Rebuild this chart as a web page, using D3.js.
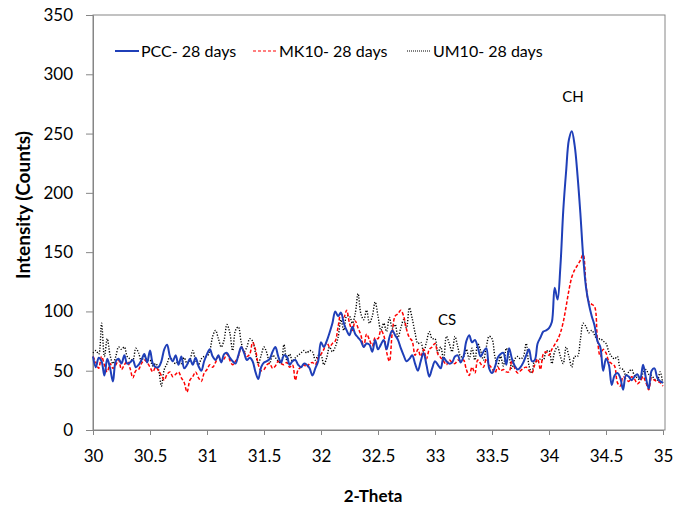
<!DOCTYPE html>
<html lang="en">
<head>
    <meta charset="UTF-8">
    <title>XRD 2-Theta</title>
    <script src="https://cdn.jsdelivr.net/npm/d3@7/dist/d3.min.js"></script>
    <style>
        body { margin: 0; background: #fff; }
        text { font-family: Lato, "Open Sans", sans-serif; fill: #000; }
    </style>
</head>
<body>
<script type="application/javascript">
    // 2-Theta grid: 30 to 35, step 0.025 (201 points)
    const twoTheta = d3.range(0, 201).map(i => +(30 + i * 0.025).toFixed(3));

    const seriesNames = ['PCC- 28 days', 'MK10- 28 days', 'UM10- 28 days'];

    // PCC, 10 values per 0.25 deg
    const pcc = [
        62, 53, 61, 58, 46, 60, 52, 41, 58, 60,
        56, 63, 56, 57, 59, 53, 55, 59, 64, 57,
        67, 56, 53, 53, 58, 68, 72, 62, 58, 63,
        55, 62, 52, 55, 60, 55, 61, 54, 50, 58,
        64, 68, 62, 59, 63, 57, 64, 65, 61, 58,
        56, 63, 70, 65, 59, 61, 58, 49, 43, 53,
        57, 58, 60, 66, 70, 62, 57, 63, 62, 55,
        58, 59, 55, 53, 56, 55, 52, 46, 52, 58,
        74, 70, 75, 82, 90, 100, 96, 99, 90, 84,
        80, 87, 81, 78, 75, 70, 73, 72, 66, 76,
        68, 72, 76, 68, 78, 84, 80, 76, 69, 63,
        58, 60, 63, 56, 50, 58, 65, 55, 45, 52,
        58, 55, 52, 61, 58, 56, 57, 62, 63, 57,
        62, 75, 80, 74, 76, 70, 62, 66, 69, 52,
        48, 53, 61, 64, 65, 55, 69, 60, 54, 51,
        53, 57, 63, 68, 58, 59, 73, 78, 83, 84,
        86, 91, 120, 110, 138, 185, 218, 245, 252, 240,
        215, 183, 146, 120, 106, 96, 88, 75, 70, 50,
        60, 55, 38, 46, 48, 44, 34, 46, 45, 42,
        45, 47, 43, 55, 44, 35, 50, 52, 44, 41,
        40
    ];

    // MK10
    const mk10 = [
        62, 57, 52, 62, 55, 49, 56, 52, 55, 59,
        51, 55, 58, 52, 44, 50, 51, 56, 59, 57,
        53, 49, 53, 50, 46, 42, 47, 49, 45, 47,
        49, 44, 40, 32, 42, 45, 49, 44, 41, 48,
        51, 55, 53, 57, 62, 58, 60, 64, 59, 55,
        58, 62, 70, 66, 62, 64, 74, 68, 55, 50,
        51, 55, 56, 52, 54, 58, 56, 55, 57, 53,
        55, 42, 51, 53, 55, 53, 56, 57, 55, 61,
        64, 68, 74, 70, 73, 75, 87, 98, 95, 101,
        90, 84, 92, 86, 80, 70, 81, 76, 71, 78,
        77, 84, 80, 66, 58, 82, 96, 98, 101, 96,
        85, 78, 75, 63, 68, 62, 68, 60, 68, 70,
        73, 64, 61, 58, 55, 59, 57, 56, 59, 58,
        59, 51, 46, 53, 48, 59, 56, 53, 60, 55,
        52, 48, 53, 50, 51, 49, 49, 59, 52, 48,
        50, 52, 53, 50, 48, 55, 60, 51, 64, 66,
        63, 68, 72, 76, 82, 91, 104, 118, 129, 135,
        139, 143, 148, 122, 108, 106, 104, 76, 62, 68,
        65, 58, 56, 54, 40, 37, 45, 43, 41, 45,
        43, 39, 41, 45, 40, 34, 44, 42, 41, 40,
        37
    ];

    // UM10
    const um10 = [
        65, 67, 64, 90, 62, 77, 63, 56, 62, 70,
        68, 70, 62, 60, 59, 69, 65, 58, 62, 59,
        59, 54, 56, 51, 37, 51, 56, 62, 58, 56,
        58, 56, 61, 56, 59, 67, 59, 55, 60, 62,
        62, 67, 79, 84, 77, 70, 76, 89, 82, 67,
        84, 87, 74, 66, 70, 77, 75, 65, 56, 63,
        70, 65, 56, 63, 61, 58, 56, 72, 59, 64,
        58, 61, 63, 65, 67, 65, 67, 66, 59, 63,
        63, 55, 61, 70, 66, 70, 78, 93, 84, 96,
        96, 90, 98, 115, 98, 93, 101, 90, 96, 108,
        96, 84, 90, 83, 95, 86, 89, 78, 86, 93,
        86, 103, 94, 82, 73, 74, 66, 74, 83, 77,
        77, 65, 70, 59, 79, 73, 66, 79, 70, 62,
        62, 68, 60, 69, 59, 73, 67, 59, 70, 79,
        77, 62, 54, 62, 54, 69, 62, 52, 60, 62,
        60, 62, 73, 54, 48, 59, 57, 60, 59, 66,
        67, 56, 66, 70, 62, 56, 70, 62, 53, 62,
        62, 76, 90, 87, 82, 84, 80, 76, 77, 75,
        73, 66, 62, 60, 62, 52, 51, 46, 49, 51,
        46, 44, 42, 48, 51, 47, 46, 43, 42, 49,
        38
    ];

    const xTicks = [30, 30.5, 31, 31.5, 32, 32.5, 33, 33.5, 34, 34.5, 35];
    const yTicks = [0, 50, 100, 150, 200, 250, 300, 350];

    const w = 688, h = 511;
    // plot area edges
    const m = { left: 93, right: 663, top: 15, bottom: 430 };

    let svg = d3.select('body')
        .append('svg')
        .attr('width', w)
        .attr('height', h);

    let xScale = d3.scaleLinear().domain([30, 35]).range([m.left, m.right]);
    let yScale = d3.scaleLinear().domain([0, 350]).range([m.bottom, m.top]);

    // plot frame
    svg.append('rect')
        .attr('x', m.left).attr('y', m.top)
        .attr('width', m.right - m.left + 2).attr('height', m.bottom - m.top)
        .attr('fill', 'none').attr('stroke', '#868686').attr('stroke-width', 1);

    // axes
    let xAxis = svg.append('g')
        .attr('transform', `translate(0,${m.bottom})`)
        .call(d3.axisBottom(xScale).tickValues(xTicks).tickSize(5).tickPadding(15)
            .tickFormat(d => d));
    let yAxis = svg.append('g')
        .attr('transform', `translate(${m.left},0)`)
        .call(d3.axisLeft(yScale).tickValues(yTicks).tickSize(7).tickPadding(13));

    [xAxis, yAxis].forEach(a => {
        a.select('.domain').attr('stroke', '#868686');
        a.selectAll('.tick line').attr('stroke', '#868686');
        a.selectAll('.tick text')
            .attr('font-size', '17px')
            .attr('font-family', 'Lato, sans-serif')
            .attr('fill', '#000');
    });

    let line = d3.line()
        .x((d, i) => xScale(twoTheta[i]))
        .y(d => yScale(d))
        .curve(d3.curveCatmullRom.alpha(0.5));

    // draw order: dotted, dashed, solid on top
    const styles = [
        { data: um10, color: '#000000', width: 1.4, dash: '1.2,1.6' },
        { data: mk10, color: '#ff0000', width: 1.5, dash: '3.5,2' },
        { data: pcc, color: '#1f3fb8', width: 2, dash: null }
    ];

    svg.selectAll('path.series')
        .data(styles)
        .enter()
        .append('path')
        .attr('class', 'series')
        .attr('d', d => line(d.data))
        .attr('fill', 'none')
        .attr('stroke', d => d.color)
        .attr('stroke-width', d => d.width)
        .attr('stroke-dasharray', d => d.dash);

    // legend
    const legend = [
        { name: seriesNames[0], x: 115, color: '#1f3fb8', width: 2, dash: null },
        { name: seriesNames[1], x: 253, color: '#ff0000', width: 1.2, dash: '3,2' },
        { name: seriesNames[2], x: 407, color: '#000000', width: 1.2, dash: '1,1' }
    ];
    let lg = svg.selectAll('g.legend')
        .data(legend)
        .enter()
        .append('g')
        .attr('class', 'legend')
        .attr('transform', d => `translate(${d.x},51)`);
    lg.append('line')
        .attr('x1', 0).attr('x2', 24)
        .attr('stroke', d => d.color)
        .attr('stroke-width', d => d.width)
        .attr('stroke-dasharray', d => d.dash);
    lg.append('text')
        .attr('x', 26).attr('y', 6)
        .attr('font-size', '16px')
        .text(d => d.name);

    // peak labels
    svg.append('text').attr('x', 573).attr('y', 102)
        .attr('text-anchor', 'middle').attr('font-size', '15px').text('CH');
    svg.append('text').attr('x', 447).attr('y', 325)
        .attr('text-anchor', 'middle').attr('font-size', '15px').text('CS');

    // axis titles
    svg.append('text')
        .attr('x', 373).attr('y', 502)
        .attr('text-anchor', 'middle')
        .attr('font-size', '17px').attr('font-weight', 'bold')
        .text('2-Theta');
    svg.append('text')
        .attr('transform', 'translate(30,205) rotate(-90)')
        .attr('text-anchor', 'middle')
        .attr('font-size', '19px').attr('font-weight', 'bold')
        .text('Intensity (Counts)');
</script>
</body>
</html>
